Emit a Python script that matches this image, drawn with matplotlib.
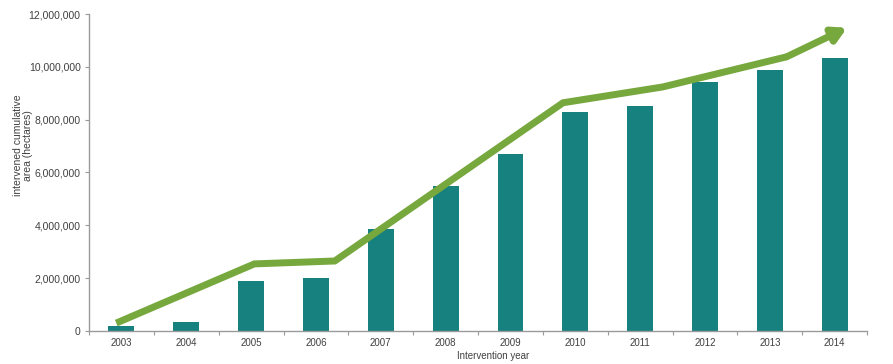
import matplotlib
matplotlib.use('Agg')
import matplotlib.pyplot as plt
from matplotlib.ticker import FuncFormatter

plt.rcParams['font.family'] = ['Liberation Sans', 'DejaVu Sans']

# data
years = ['2003', '2004', '2005', '2006', '2007', '2008', '2009', '2010',
         '2011', '2012', '2013', '2014']
area = [200000, 340000, 1890000, 2000000, 3860000, 5490000, 6700000,
        8300000, 8520000, 9430000, 9890000, 10340000]

# trend arrow (x in category units, y in hectares)
trend_x = [-0.08, 2.05, 3.29, 6.81, 8.35, 10.26, 11.19]
trend_y = [300000, 2540000, 2650000, 8640000, 9240000, 10380000, 11480000]

bar_color = '#16817f'
line_color = '#76a83e'
text_color = '#404040'
axis_color = '#9a9a9a'

fig = plt.figure(figsize=(8.93, 3.64), dpi=100)
ax = fig.add_axes([0.0997, 0.0907, 0.8713, 0.8708])

x = list(range(len(years)))
ax.bar(x, area, width=0.4, color=bar_color, zorder=2)

# line up to the point before the tip, then arrow head for last piece
ax.plot(trend_x[:-1], trend_y[:-1], color=line_color, lw=5,
        solid_capstyle='butt', solid_joinstyle='miter', zorder=3)
ax.annotate('', xy=(trend_x[-1], trend_y[-1]),
            xytext=(trend_x[-2], trend_y[-2]),
            arrowprops=dict(arrowstyle='-|>,head_length=0.8,head_width=0.45',
                            color=line_color, lw=5, shrinkA=0, shrinkB=0),
            zorder=3)

ax.set_xlim(-0.5, 11.5)
ax.set_ylim(0, 12000000)
ax.set_yticks(range(0, 12000001, 2000000))
ax.yaxis.set_major_formatter(FuncFormatter(lambda v, p: '{:,.0f}'.format(v)))

ax.set_xticks([i - 0.5 for i in range(len(years) + 1)])
ax.set_xticklabels([])
ax.set_xticks(x, minor=True)
ax.set_xticklabels(years, minor=True)
ax.tick_params(axis='x', which='minor', length=0, pad=5,
               labelsize=7, labelcolor=text_color)
ax.tick_params(axis='x', which='major', length=3, color=axis_color, direction='out')
ax.tick_params(axis='y', length=3, color=axis_color, labelsize=7.5,
               labelcolor=text_color, pad=3)

for s in ['top', 'right']:
    ax.spines[s].set_visible(False)
for s in ['left', 'bottom']:
    ax.spines[s].set_color(axis_color)
    ax.spines[s].set_linewidth(1)

ax.set_ylabel('intervened cumulative\narea (hectares)', fontsize=7.5,
              color=text_color, linespacing=1.0)
ax.yaxis.set_label_coords(-0.072, 0.585)
fig.text(0.552, 0.008, 'Intervention year', fontsize=7, color=text_color,
         ha='center', va='bottom')

fig.savefig('out.png', dpi=100)
